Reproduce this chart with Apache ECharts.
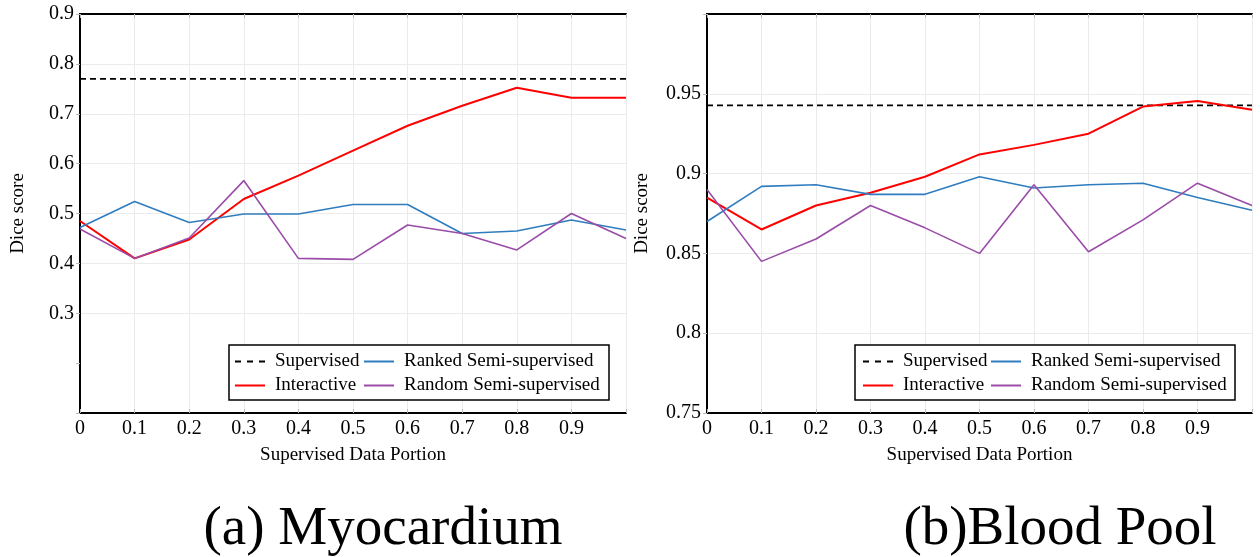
<!DOCTYPE html>
<html>
<head>
<meta charset="utf-8">
<script src="https://cdn.jsdelivr.net/npm/echarts@6/dist/echarts.min.js"></script>
<style>
html,body{margin:0;padding:0;background:#fff;}
#chart{width:1260px;height:557px;}
</style>
</head>
<body>
<div id="chart"></div>
<script>
// ---- Data ----
const xValues = [0, 0.1, 0.2, 0.3, 0.4, 0.5, 0.6, 0.7, 0.8, 0.9, 1.0];
const seriesNames = ['Supervised', 'Interactive', 'Ranked Semi-supervised', 'Random Semi-supervised'];

// (a) Myocardium
const myoSupervised = 0.770;
const myoInteractive = [0.485, 0.410, 0.448, 0.529, 0.576, 0.626, 0.676, 0.716, 0.752, 0.732, 0.732];
const myoRanked      = [0.472, 0.524, 0.482, 0.499, 0.499, 0.518, 0.518, 0.460, 0.465, 0.487, 0.467];
const myoRandom      = [0.469, 0.410, 0.451, 0.566, 0.410, 0.408, 0.477, 0.460, 0.427, 0.500, 0.450];

// (b) Blood Pool
const bpSupervised = 0.9427;
const bpInteractive = [0.885, 0.865, 0.880, 0.888, 0.898, 0.912, 0.918, 0.925, 0.942, 0.9455, 0.940];
const bpRanked      = [0.870, 0.892, 0.893, 0.887, 0.887, 0.898, 0.891, 0.893, 0.894, 0.885, 0.877];
const bpRandom      = [0.890, 0.845, 0.859, 0.880, 0.866, 0.850, 0.893, 0.851, 0.871, 0.894, 0.880];

// Tick labels
const myoYTicks = [0.3, 0.4, 0.5, 0.6, 0.7, 0.8, 0.9];
const bpYTicks = [0.75, 0.8, 0.85, 0.9, 0.95];
const xTicks = [0, 0.1, 0.2, 0.3, 0.4, 0.5, 0.6, 0.7, 0.8, 0.9];

const captions = ['(a) Myocardium', '(b)Blood Pool'];
const xAxisTitle = 'Supervised Data Portion';
const yAxisTitle = 'Dice score';

// ---- Styling ----
const FONT = 'Liberation Serif';
const colors = { sup: '#000000', inter: '#ff0000', ranked: '#2f7dbf', random: '#9a4ca8' };
const ICON_SOLID = 'path://M0,0h30v2h-30z';
const ICON_DASH = 'path://M0,0h6v2h-6zM12,0h6v2h-6zM24,0h6v2h-6z';

function pairs(arr) { return xValues.map((x, i) => [x, arr[i]]); }
function flat(v) { return [[xValues[0], v], [xValues[xValues.length - 1], v]]; }
function near(v, list) { return list.some(t => Math.abs(t - v) < 1e-6); }

const grids = [
  { left: 80, top: 14, width: 546, height: 399 },
  { left: 707, top: 14, width: 545, height: 399 }
];

const gridLineColor = '#ebebeb';

function makeX(gi) {
  return [
    {
      type: 'value', gridIndex: gi, min: 0, max: 1, interval: 0.1,
      name: xAxisTitle, nameLocation: 'middle', nameGap: 33,
      nameTextStyle: { fontFamily: FONT, fontSize: 19, color: '#000' },
      axisLine: { show: true, lineStyle: { color: '#000', width: 2 } },
      axisTick: { show: true, inside: true, length: 4, lineStyle: { color: '#bbb' } },
      axisLabel: {
        fontFamily: FONT, fontSize: 20, color: '#000', margin: 6,
        formatter: v => near(v, xTicks) ? String(Math.round(v * 10) / 10) : ''
      },
      splitLine: { show: true, lineStyle: { color: gridLineColor, width: 1 } }
    },
    {
      type: 'value', gridIndex: gi, position: 'top', min: 0, max: 1, interval: 0.1,
      axisLine: { show: true, lineStyle: { color: '#000', width: 2 } },
      axisTick: { show: true, inside: true, length: 4, lineStyle: { color: '#bbb' } },
      axisLabel: { show: false }, splitLine: { show: false }
    }
  ];
}

function makeY(gi, min, max, interval, ticks, gap, splitColors) {
  return [
    {
      type: 'value', gridIndex: gi, min: min, max: max, interval: interval,
      name: yAxisTitle, nameLocation: 'middle', nameGap: gap,
      nameTextStyle: { fontFamily: FONT, fontSize: 19, color: '#000' },
      axisLine: { show: true, lineStyle: { color: '#000', width: 2 } },
      axisTick: { show: false },
      axisLabel: {
        fontFamily: FONT, fontSize: 20, color: '#000', margin: 6,
        formatter: v => near(v, ticks) ? String(Math.round(v * 100) / 100) : ''
      },
      splitLine: { show: true, lineStyle: { color: splitColors, width: 1 } }
    },
    {
      type: 'value', gridIndex: gi, position: 'right', min: min, max: max, interval: interval,
      axisLine: { show: true, lineStyle: { color: '#000', width: 2 } },
      axisTick: { show: true, inside: true, length: 4, lineStyle: { color: '#bbb' } },
      axisLabel: { show: false }, splitLine: { show: false }
    }
  ];
}

const T = 'rgba(0,0,0,0)';
const myoSplit = [T, T, gridLineColor, gridLineColor, gridLineColor, gridLineColor, gridLineColor, gridLineColor, gridLineColor];
const bpSplit = [gridLineColor, gridLineColor, gridLineColor, gridLineColor, gridLineColor, T];

function lineSeries(name, data, xi, yi, color, width, dashed) {
  return {
    name: name, type: 'line', xAxisIndex: xi, yAxisIndex: yi, data: data,
    symbol: 'none', showSymbol: false, z: 3,
    lineStyle: { color: color, width: width, type: dashed ? [6, 4] : 'solid' },
    itemStyle: { color: color },
    emphasis: { disabled: true }, animation: false
  };
}

const series = [
  lineSeries('Supervised', flat(myoSupervised), 0, 0, colors.sup, 1.8, true),
  lineSeries('Interactive', pairs(myoInteractive), 0, 0, colors.inter, 2, false),
  lineSeries('Ranked Semi-supervised', pairs(myoRanked), 0, 0, colors.ranked, 1.6, false),
  lineSeries('Random Semi-supervised', pairs(myoRandom), 0, 0, colors.random, 1.6, false),
  lineSeries('Supervised', flat(bpSupervised), 2, 2, colors.sup, 1.8, true),
  lineSeries('Interactive', pairs(bpInteractive), 2, 2, colors.inter, 2, false),
  lineSeries('Ranked Semi-supervised', pairs(bpRanked), 2, 2, colors.ranked, 1.6, false),
  lineSeries('Random Semi-supervised', pairs(bpRandom), 2, 2, colors.random, 1.6, false)
];

function legend(left, names, icons) {
  return {
    orient: 'vertical', left: left, top: 352, padding: 0,
    itemWidth: 30, itemHeight: 14, itemGap: 5, z: 10,
    selectedMode: false,
    data: names.map((n, i) => ({ name: n, icon: icons[i] })),
    textStyle: { fontFamily: FONT, fontSize: 19, color: '#000', padding: [0, 0, 0, 5] }
  };
}

const option = {
  backgroundColor: '#fff',
  animation: false,
  grid: grids,
  xAxis: [].concat(makeX(0), makeX(1)),
  yAxis: [].concat(
    makeY(0, 0.1, 0.9, 0.1, myoYTicks, 52, myoSplit),
    makeY(1, 0.75, 1.0, 0.05, bpYTicks, 55, bpSplit)
  ),
  legend: [
    legend(235, [seriesNames[0], seriesNames[1]], [ICON_DASH, ICON_SOLID]),
    legend(364, [seriesNames[2], seriesNames[3]], [ICON_SOLID, ICON_SOLID]),
    legend(863, [seriesNames[0], seriesNames[1]], [ICON_DASH, ICON_SOLID]),
    legend(991, [seriesNames[2], seriesNames[3]], [ICON_SOLID, ICON_SOLID])
  ],
  graphic: [
    { type: 'rect', z: 5, shape: { x: 229, y: 345, width: 380, height: 55 },
      style: { fill: '#fff', stroke: '#000', lineWidth: 1.5 } },
    { type: 'rect', z: 5, shape: { x: 855, y: 345, width: 380, height: 55 },
      style: { fill: '#fff', stroke: '#000', lineWidth: 1.5 } },
    { type: 'text', z: 5, x: 383, y: 530,
      style: { text: captions[0], font: '55px "Liberation Serif"', fill: '#000', textAlign: 'center', textVerticalAlign: 'middle' } },
    { type: 'text', z: 5, x: 1060, y: 530,
      style: { text: captions[1], font: '55px "Liberation Serif"', fill: '#000', textAlign: 'center', textVerticalAlign: 'middle' } }
  ],
  series: series
};

const chart = echarts.init(document.getElementById('chart'), null, { renderer: 'canvas' });
chart.setOption(option);
</script>
</body>
</html>
